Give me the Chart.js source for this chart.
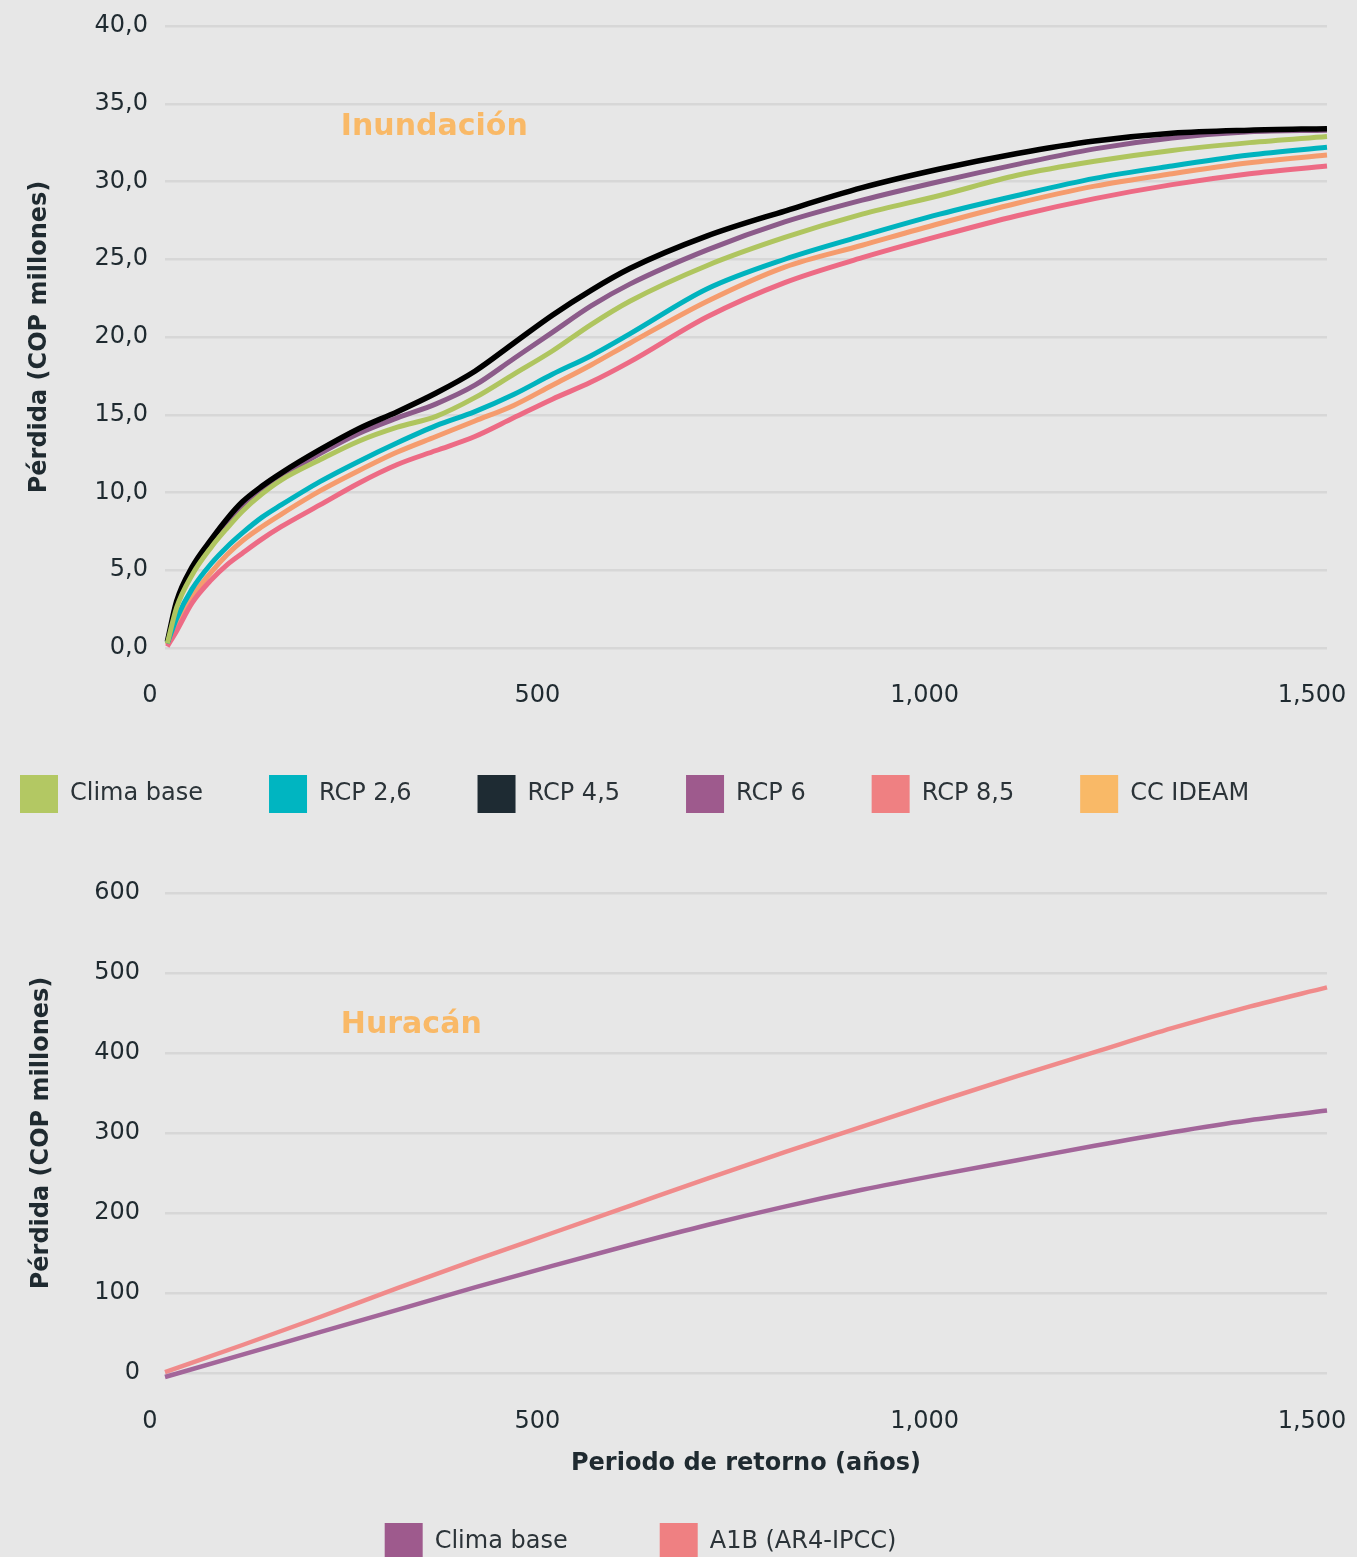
<!DOCTYPE html>
<html lang="es">
<head>
<meta charset="UTF-8">
<title>Pérdida por periodo de retorno</title>
<script src="https://cdn.jsdelivr.net/npm/chart.js"></script>
<style>
  html, body { margin: 0; padding: 0; background: #e7e7e7; overflow: hidden; }
  body { width: 1357px; height: 1557px; position: relative; }
  .caja { position: absolute; left: -46px; width: 1403px; }
  #cajaInundacion { top: 0; height: 823px; }
  #cajaHuracan { top: 860px; height: 711px; }
</style>
</head>
<body>
  <div class="caja" id="cajaInundacion"><canvas id="graficoInundacion"></canvas></div>
  <div class="caja" id="cajaHuracan"><canvas id="graficoHuracan"></canvas></div>

  <script>
    // Inundación: periodo de retorno (años) y pérdida (COP millones)
    const periodos = [3, 15, 35, 60, 80, 100, 125, 150, 200, 250, 300, 350, 400, 450, 500, 550, 600, 700, 800, 900, 1000, 1100, 1200, 1300, 1400, 1500];
    const climaBase = [0.3, 2.6, 4.7, 6.5, 7.7, 8.8, 9.9, 10.8, 12.1, 13.3, 14.2, 14.9, 16.1, 17.6, 19.1, 20.8, 22.3, 24.6, 26.4, 27.9, 29.1, 30.4, 31.3, 32.0, 32.5, 32.9];
    const rcp26 = [0.3, 1.9, 3.8, 5.45, 6.5, 7.4, 8.4, 9.2, 10.7, 12.0, 13.2, 14.3, 15.2, 16.3, 17.6, 18.8, 20.2, 23.1, 25.0, 26.5, 27.9, 29.1, 30.2, 31.0, 31.7, 32.2];
    const rcp45 = [0.4, 3.0, 5.2, 7.0, 8.3, 9.4, 10.4, 11.25, 12.75, 14.1, 15.2, 16.4, 17.8, 19.6, 21.4, 23.0, 24.4, 26.5, 28.1, 29.6, 30.8, 31.8, 32.6, 33.1, 33.3, 33.4];
    const rcp6 = [0.3, 2.7, 4.8, 6.6, 7.9, 9.0, 10.1, 11.0, 12.5, 13.8, 14.8, 15.7, 16.9, 18.6, 20.3, 22.0, 23.4, 25.6, 27.4, 28.8, 30.0, 31.1, 32.1, 32.8, 33.2, 33.3];
    const rcp85 = [0.1, 1.1, 2.9, 4.4, 5.35, 6.1, 7.0, 7.8, 9.2, 10.6, 11.8, 12.7, 13.6, 14.8, 16.0, 17.1, 18.4, 21.3, 23.5, 25.1, 26.5, 27.8, 28.9, 29.8, 30.5, 31.0];
    const ccIdeam = [0.2, 1.5, 3.3, 4.9, 6.0, 6.9, 7.8, 8.6, 10.1, 11.4, 12.6, 13.6, 14.6, 15.6, 16.9, 18.2, 19.6, 22.3, 24.5, 25.9, 27.3, 28.6, 29.7, 30.5, 31.2, 31.7];

    // Huracán
    const periodosHuracan = [0, 100, 200, 300, 400, 500, 600, 700, 800, 900, 1000, 1100, 1200, 1300, 1400, 1500];
    const huracanBase = [-5, 23, 51, 79, 107, 134, 160, 185, 208, 229, 248, 266, 284, 301, 316, 328];
    const huracanA1B = [1, 35, 70, 106, 141, 175, 209, 243, 276, 308, 340, 371, 401, 431, 458, 482];

    // etiquetas de ejes
    const ejeX = ["0", "500", "1,000", "1,500"];
    const ejeYInundacion = ["0,0", "5,0", "10,0", "15,0", "20,0", "25,0", "30,0", "35,0", "40,0"];
    const ejeYHuracan = ["0", "100", "200", "300", "400", "500", "600"];

    Chart.defaults.font.family = "'DejaVu Sans', sans-serif";
    Chart.defaults.color = "#1f2a30";
    Chart.defaults.animation = false;

    const textoOscuro = "#1f2a30";
    const colorGrid = "#d7d7d7";

    function puntos(xs, ys) {
      return ys.map((v, i) => ({ x: xs[i], y: v }));
    }

    // cuadros de la leyenda sin borde, con el color de relleno
    function etiquetas(chart) {
      return Chart.defaults.plugins.legend.labels.generateLabels(chart).map(l => {
        l.lineWidth = 0;
        l.strokeStyle = l.fillStyle;
        return l;
      });
    }

    // título dentro del área del gráfico
    const textoInterno = {
      id: "textoInterno",
      afterDatasetsDraw(chart, args, opts) {
        const { ctx, scales } = chart;
        ctx.save();
        ctx.font = "bold 30px 'DejaVu Sans', sans-serif";
        ctx.fillStyle = opts.color;
        ctx.textBaseline = "middle";
        ctx.textAlign = "left";
        ctx.fillText(opts.texto, scales.x.getPixelForValue(opts.x), scales.y.getPixelForValue(opts.y));
        ctx.restore();
      }
    };

    function serie(label, data, linea, relleno, ancho) {
      return {
        label: label,
        data: data,
        borderColor: linea,
        backgroundColor: relleno,
        borderWidth: ancho,
        pointRadius: 0,
        cubicInterpolationMode: "monotone",
        clip: false
      };
    }

    // ejes con tamaño fijo, sin el relleno automático de las etiquetas
    function ejeXFijo(alto) {
      return s => { s.height = alto; s.paddingLeft = 0; s.paddingRight = 0; };
    }
    function ejeYFijo(s) {
      s.width = 211; s.paddingTop = 0; s.paddingBottom = 0;
    }

    new Chart(document.getElementById("graficoInundacion"), {
      type: "line",
      data: {
        datasets: [
          serie("Clima base", puntos(periodos, climaBase), "#afc55f", "#b3c863", 5),
          serie("RCP 2,6", puntos(periodos, rcp26), "#00b3be", "#00b5c1", 5),
          serie("RCP 4,5", puntos(periodos, rcp45), "#000000", "#1e2b33", 5.5),
          serie("RCP 6", puntos(periodos, rcp6), "#8c5b8a", "#9e5a8d", 5),
          serie("RCP 8,5", puntos(periodos, rcp85), "#ed6b85", "#ef8082", 5),
          serie("CC IDEAM", puntos(periodos, ccIdeam), "#f59c6e", "#f9b967", 5)
        ]
      },
      plugins: [textoInterno],
      options: {
        responsive: true,
        maintainAspectRatio: false,
        layout: { padding: { top: 26, right: 30, left: 0, bottom: 0 } },
        scales: {
          x: {
            type: "linear", min: 0, max: 1500,
            ticks: { stepSize: 500, padding: 25, labelOffset: -15, maxRotation: 0, font: { size: 24 },
                     color: textoOscuro, callback: (v, i) => ejeX[i] },
            grid: { display: false },
            border: { display: false },
            afterFit: ejeXFijo(61)
          },
          y: {
            min: 0, max: 40,
            ticks: { stepSize: 5, padding: 17, font: { size: 24 }, color: textoOscuro,
                     callback: (v, i) => ejeYInundacion[i] },
            grid: { color: colorGrid, lineWidth: 2.5, drawTicks: false },
            border: { display: false },
            title: { display: true, text: "Pérdida (COP millones)", color: textoOscuro,
                     font: { size: 24, weight: "bold" }, padding: { top: 71, bottom: 0 } },
            afterFit: ejeYFijo
          }
        },
        plugins: {
          legend: {
            position: "bottom", align: "start",
            labels: { boxWidth: 38, boxHeight: 38, padding: 66, font: { size: 24 }, color: "#2b3338",
                      generateLabels: etiquetas }
          },
          tooltip: { enabled: false },
          textoInterno: { texto: "Inundación", x: 227, y: 33.5, color: "#f9b967" }
        }
      }
    });

    new Chart(document.getElementById("graficoHuracan"), {
      type: "line",
      data: {
        datasets: [
          serie("Clima base", puntos(periodosHuracan, huracanBase), "#a3669a", "#9e5a8d", 4.5),
          serie("A1B (AR4-IPCC)", puntos(periodosHuracan, huracanA1B), "#f08b8b", "#ef8082", 4.5)
        ]
      },
      plugins: [textoInterno],
      options: {
        responsive: true,
        maintainAspectRatio: false,
        layout: { padding: { top: 33, right: 30, left: 0, bottom: 0 } },
        scales: {
          x: {
            type: "linear", min: 0, max: 1500,
            ticks: { stepSize: 500, padding: 26, labelOffset: -15, maxRotation: 0, font: { size: 24 },
                     color: textoOscuro, callback: (v, i) => ejeX[i] },
            grid: { display: false },
            border: { display: false },
            title: { display: true, text: "Periodo de retorno (años)", color: textoOscuro,
                     font: { size: 24, weight: "bold" }, padding: { top: 0, bottom: -47 } },
            afterFit: ejeXFijo(58)
          },
          y: {
            min: 0, max: 600,
            ticks: { stepSize: 100, padding: 25, font: { size: 24 }, color: textoOscuro,
                     callback: (v, i) => ejeYHuracan[i] },
            grid: { color: colorGrid, lineWidth: 2.5, drawTicks: false },
            border: { display: false },
            title: { display: true, text: "Pérdida (COP millones)", color: textoOscuro,
                     font: { size: 24, weight: "bold" }, padding: { top: 73, bottom: 0 } },
            afterFit: ejeYFijo
          }
        },
        plugins: {
          legend: {
            position: "bottom", align: "center",
            labels: { boxWidth: 38, boxHeight: 38, padding: 92, font: { size: 24 }, color: "#2b3338",
                      generateLabels: etiquetas }
          },
          tooltip: { enabled: false },
          textoInterno: { texto: "Huracán", x: 227, y: 435, color: "#f9b967" }
        }
      }
    });
  </script>
</body>
</html>
